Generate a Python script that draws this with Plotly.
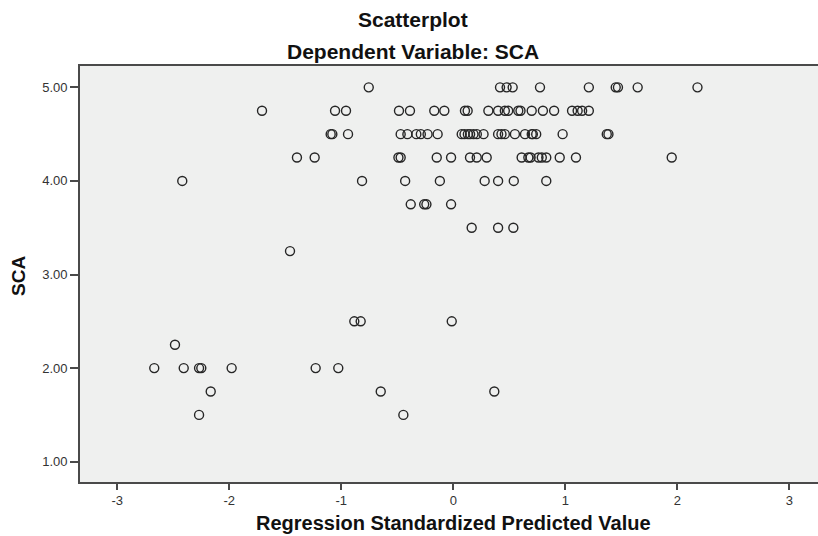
import plotly.graph_objects as go

# Regression standardized predicted values, grouped by observed SCA value
pred_500 = [-0.755, 0.417, 0.476, 0.53, 0.774, 1.21, 1.45, 1.47, 1.646, 2.18]
pred_475 = [-1.708, -1.056, -0.958, -0.485, -0.387, -0.17, -0.08, 0.104, 0.128, 0.313,
            0.40, 0.46, 0.49, 0.58, 0.60, 0.70, 0.80, 0.90, 1.06, 1.11, 1.15, 1.21]
pred_450 = [-1.095, -1.08, -0.94, -0.47, -0.41, -0.33, -0.29, -0.23, -0.14, 0.075,
            0.10, 0.13, 0.15, 0.18, 0.21, 0.27, 0.40, 0.43, 0.46, 0.55, 0.64, 0.70,
            0.71, 0.74, 0.976, 1.37, 1.385]
pred_425 = [-1.396, -1.238, -0.49, -0.47, -0.148, -0.02, 0.149, 0.209, 0.298, 0.61,
            0.67, 0.69, 0.76, 0.79, 0.83, 0.95, 1.095, 1.95]
pred_400 = [-2.42, -0.815, -0.43, -0.12, 0.28, 0.40, 0.54, 0.83]
pred_375 = [-0.38, -0.26, -0.24, -0.02]
pred_350 = [0.164, 0.40, 0.536]
pred_325 = [-1.458]
pred_250 = [-0.884, -0.827, -0.014]
pred_225 = [-2.485]
pred_200 = [-2.67, -2.407, -2.27, -2.25, -1.979, -1.229, -1.027]
pred_175 = [-2.166, -0.648, 0.366]
pred_150 = [-2.27, -0.446]

sca_levels = [5.00, 4.75, 4.50, 4.25, 4.00, 3.75, 3.50, 3.25, 2.50, 2.25, 2.00, 1.75, 1.50]
pred_groups = [pred_500, pred_475, pred_450, pred_425, pred_400, pred_375, pred_350,
               pred_325, pred_250, pred_225, pred_200, pred_175, pred_150]

x_ticks = [-3, -2, -1, 0, 1, 2, 3]
y_ticks = [1.0, 2.0, 3.0, 4.0, 5.0]
y_tick_labels = ["1.00", "2.00", "3.00", "4.00", "5.00"]

title_text = "Scatterplot"
subtitle_text = "Dependent Variable: SCA"
x_title = "Regression Standardized Predicted Value"
y_title = "SCA"

xs, ys = [], []
for lvl, grp in zip(sca_levels, pred_groups):
    xs.extend(grp)
    ys.extend([lvl] * len(grp))

fig = go.Figure()
fig.add_trace(go.Scatter(
    x=xs, y=ys, mode="markers",
    marker=dict(symbol="circle-open", size=9, color="#262626", line=dict(width=1.4)),
    showlegend=False, hoverinfo="x+y",
))

# figure pixel geometry (page body margin removed below, so figure px == window px)
W, H = 818, 536
L, R, T, B = 80, 0, 66, 54
PW, PH = W - L - R, H - T - B


def px(fx):
    return (fx - L) / PW


def py(fy):
    return (H - B - fy) / PH


fig.update_layout(
    width=W, height=H,
    margin=dict(l=L, r=R, t=T, b=B),
    paper_bgcolor="white",
    plot_bgcolor="#eff0ef",
    font=dict(family="Liberation Sans, Arial, sans-serif", color="#222222"),
    showlegend=False,
)

fig.update_xaxes(
    range=[-3.333, 3.256], tickvals=x_ticks, ticktext=[str(v) for v in x_ticks],
    showgrid=False, zeroline=False,
    showline=True, linecolor="#4a4a4a", linewidth=1.6, mirror=True,
    ticks="outside", ticklen=6, tickwidth=1.6, tickcolor="#4a4a4a",
    tickfont=dict(size=13, color="#333333"),
)
fig.update_yaxes(
    range=[0.783, 5.228], tickvals=y_ticks, ticktext=y_tick_labels,
    showgrid=False, zeroline=False,
    showline=True, linecolor="#4a4a4a", linewidth=1.6,
    ticks="outside", ticklen=8, tickwidth=1.6, tickcolor="#4a4a4a",
    tickfont=dict(size=13, color="#333333"),
)

common = dict(xref="paper", yref="paper", showarrow=False,
              xanchor="center", yanchor="middle")
fig.add_annotation(text="<b>" + title_text + "</b>", x=px(413), y=py(20),
                   font=dict(size=21, color="#111111"), **common)
fig.add_annotation(text="<b>" + subtitle_text + "</b>", x=px(413), y=py(52),
                   font=dict(size=21, color="#111111"), **common)
fig.add_annotation(text="<b>" + x_title + "</b>", x=px(453), y=py(523),
                   font=dict(size=20, color="#111111"), **common)
fig.add_annotation(text="<b>" + y_title + "</b>", x=px(18), y=py(276), textangle=-90,
                   font=dict(size=19, color="#111111"), **common)

fig.write_html(
    "out.html",
    config={"displayModeBar": False},
    post_script="document.body.style.margin='0';document.body.style.overflow='hidden';",
)
